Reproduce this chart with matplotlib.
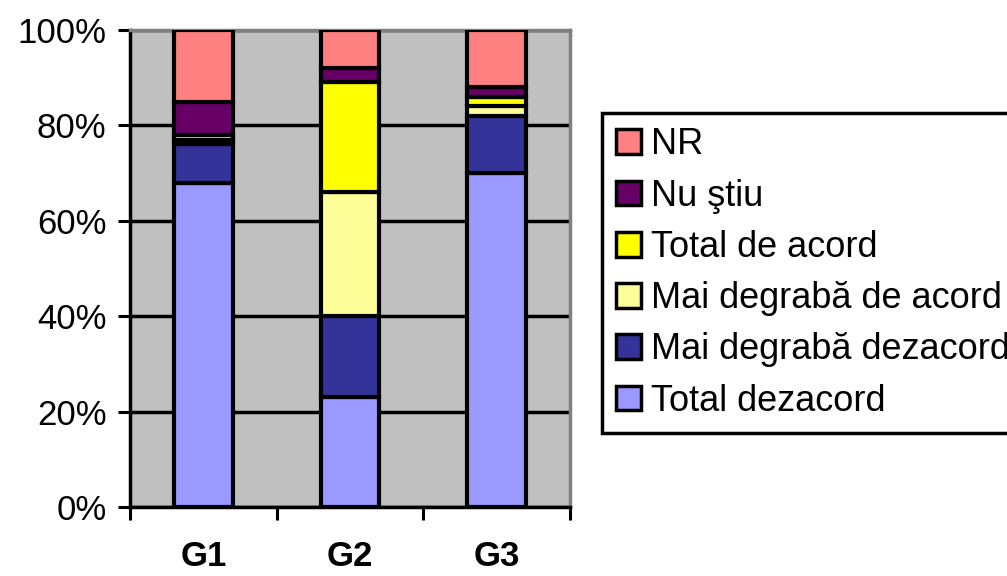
import matplotlib
matplotlib.use("Agg")
import matplotlib.pyplot as plt
import numpy as np

plt.rcParams['font.family'] = ['Liberation Sans', 'DejaVu Sans']

# data (percent per group)
groups = ['G1', 'G2', 'G3']
series = ['Total dezacord', 'Mai degrabă dezacord', 'Mai degrabă de acord',
          'Total de acord', 'Nu ştiu', 'NR']
total_dezacord = [68, 23, 70]
mai_degraba_dezacord = [8, 17, 12]
mai_degraba_acord = [1, 26, 2]
total_acord = [1, 23, 2]
nu_stiu = [7, 3, 2]
nr = [15, 8, 12]
values = [total_dezacord, mai_degraba_dezacord, mai_degraba_acord,
          total_acord, nu_stiu, nr]
colors = ['#9999FF', '#333399', '#FFFF99', '#FFFF00', '#660066', '#FF8080']

fig = plt.figure(figsize=(10.07, 5.76), dpi=100)
ax = fig.add_axes([130/1007, 69/576, 440/1007, 477/576])
ax.set_facecolor('#C0C0C0')

x = np.arange(len(groups))
bottom = np.zeros(len(groups))
handles = []
for name, vals, c in zip(series, values, colors):
    b = ax.bar(x, vals, 0.4, bottom=bottom, color=c, edgecolor='black',
               linewidth=3, label=name, zorder=3)
    handles.append(b)
    bottom += np.array(vals)

ax.set_xlim(-0.5, 2.5)
ax.set_ylim(0, 100)
ax.set_yticks(np.arange(0, 101, 20))
ax.set_yticklabels([f'{v}%' for v in range(0, 101, 20)], fontsize=25)
ax.yaxis.grid(True, color='black', linewidth=2.5, zorder=1)
ax.set_axisbelow(True)

ax.set_xticks(x)
ax.set_xticklabels(groups, fontsize=25, fontweight='bold')
ax.tick_params(axis='x', which='major', length=0, pad=24)
ax.set_xticks([-0.5, 0.5, 1.5, 2.5], minor=True)
ax.tick_params(axis='x', which='minor', length=9, width=2.2, direction='out')
ax.tick_params(axis='y', length=9, width=2.2, direction='out', pad=8)

for s in ['left', 'bottom']:
    ax.spines[s].set_color('black')
    ax.spines[s].set_linewidth(2.5)
for s in ['top', 'right']:
    ax.spines[s].set_color('#808080')
    ax.spines[s].set_linewidth(2.5)

leg = ax.legend(handles[::-1], series[::-1], loc='upper left',
                bbox_to_anchor=(602/1007, 1 - 113/576),
                bbox_transform=fig.transFigure, fontsize=26,
                frameon=True, fancybox=False, framealpha=1,
                handlelength=0.67, handleheight=0.67, handletextpad=0.3,
                labelspacing=0.45, borderpad=0.4, borderaxespad=0)
leg.get_frame().set_edgecolor('black')
leg.get_frame().set_linewidth(2.5)
for h in leg.legend_handles:
    h.set_linewidth(2.5)

fig.savefig('out.png', dpi=100)
